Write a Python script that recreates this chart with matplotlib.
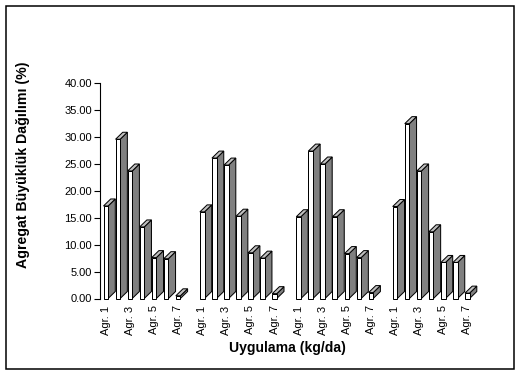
import matplotlib
matplotlib.use('Agg')
import matplotlib.pyplot as plt
from matplotlib.patches import Polygon, Rectangle

plt.rcParams['font.family'] = ['Liberation Sans', 'DejaVu Sans']

categories = ['Agr. 1', 'Agr. 2', 'Agr. 3', 'Agr. 4', 'Agr. 5', 'Agr. 6', 'Agr. 7']
group_1 = [17.2, 29.6, 23.7, 13.3, 7.6, 7.4, 0.5]
group_2 = [16.1, 26.1, 24.8, 15.3, 8.5, 7.5, 0.9]
group_3 = [15.2, 27.4, 25.0, 15.2, 8.35, 7.6, 1.1]
group_4 = [17.1, 32.5, 23.7, 12.4, 6.7, 6.7, 1.0]
groups = [group_1, group_2, group_3, group_4]
y_ticks = [0, 5, 10, 15, 20, 25, 30, 35, 40]

W, H = 518, 373
# pixel geometry of the plot area
x_axis, x_end = 99.5, 485
y_zero, y_top = 298.5, 83.3
first_bar, pitch = 103.5, 12.05

fig = plt.figure(figsize=(W / 100, H / 100), dpi=100, facecolor='w')
fig.add_artist(Rectangle((5.5 / W, 1 - 368.5 / H), 508 / W, 363 / H,
                         transform=fig.transFigure, fill=False,
                         edgecolor='k', linewidth=1.1))

ax = fig.add_axes([x_axis / W, 1 - y_zero / H,
                   (x_end - x_axis) / W, (y_zero - y_top) / H])
ax.set_xlim((x_axis - first_bar) / pitch, (x_end - first_bar) / pitch)
ax.set_ylim(0, 40)

bar_w = 4.6 / pitch
dx = 7.2 / pitch
dy = 7.0 * 40 / (y_zero - y_top)


def draw_bar(ax, x, v):
    kw = dict(edgecolor='k', linewidth=0.72, clip_on=False)
    ax.add_patch(Polygon([(x + bar_w, 0), (x + bar_w + dx, dy),
                          (x + bar_w + dx, v + dy), (x + bar_w, v)],
                         facecolor='#808080', **kw))
    ax.add_patch(Polygon([(x, v), (x + dx, v + dy),
                          (x + bar_w + dx, v + dy), (x + bar_w, v)],
                         facecolor='#c0c0c0', **kw))
    ax.add_patch(Rectangle((x, 0), bar_w, v, facecolor='w', **kw))


tick_pos = []
tick_lab = []
for g, values in enumerate(groups):
    for b, v in enumerate(values):
        pos = g * 8 + b
        draw_bar(ax, pos, v)
        if b % 2 == 0:
            tick_pos.append(pos + bar_w / 2)
            tick_lab.append(categories[b])

ax.set_xticks(tick_pos)
ax.set_xticklabels(tick_lab, rotation=90, fontsize=8)
ax.tick_params(axis='x', length=0, pad=5)
ax.set_yticks(y_ticks)
ax.set_yticklabels(['%.2f' % t for t in y_ticks], fontsize=8)
ax.tick_params(axis='y', length=4, width=0.8, pad=1.5)

for s in ['top', 'right', 'bottom']:
    ax.spines[s].set_visible(False)
ax.spines['left'].set_linewidth(0.8)
ax.patch.set_visible(False)

fig.text(287 / W, 1 - 348 / H, 'Uygulama (kg/da)', fontsize=10.1, fontweight='bold',
         ha='center', va='center')
fig.text(23 / W, 1 - 165 / H, 'Agregat Büyüklük Dağılımı (%)', fontsize=10.2,
         fontweight='bold', rotation=90, ha='center', va='center')

fig.savefig('out.png', dpi=100)
